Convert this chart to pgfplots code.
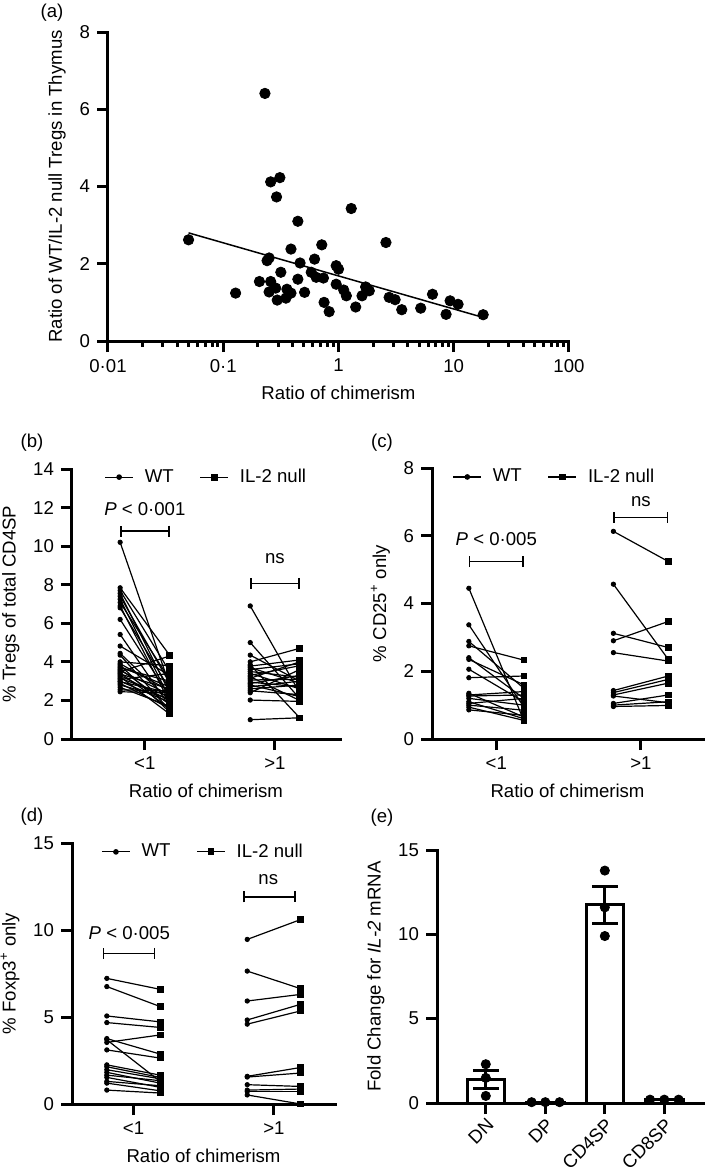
\documentclass[border=0pt]{standalone}
\usepackage{fontspec}
\setmainfont{Liberation Sans}
\usepackage{pgfplots}
\pgfplotsset{compat=1.18}
\usepackage{pgfplotstable}
\usetikzlibrary{arrows.meta}
\newcommand{\fs}{\fontsize{9.3}{11}\selectfont}

\pgfplotsset{
  myaxis/.style={
    scale only axis,
    anchor=south west,
    axis lines=left,
    axis line style={-, line width=1.5pt, line cap=rect},
    tick align=outside,
    major tick length=5.5pt,
    tick style={black, line width=1.5pt},
    tick label style={font=\fs},
    label style={font=\fs},
    /pgf/number format/assume math mode=true,
    clip=false,
  },
  pairaxis/.style={
    myaxis,
    xtick={0,1}, xticklabels={<1,>1},
    xlabel={Ratio of chimerism},
    legend columns=2,
    legend style={draw=none, fill=none, inner sep=0pt, at={#1}, anchor=west, font=\fs,
      /tikz/every odd column/.append style={column sep=3.5pt},
      /tikz/every even column/.append style={column sep=11pt}},
    legend image code/.code={\draw[mark repeat=2,mark phase=2,##1] plot coordinates {(0pt,0pt) (7pt,0pt) (14pt,0pt)};},
  },
}
\newcommand{\pairlegend}{%
  \addlegendimage{black, line width=0.6pt, mark=*, mark size=1.1pt}
  \addlegendentry{WT}
  \addlegendimage{black, line width=0.6pt, mark=square*, mark size=1.4pt}
  \addlegendentry{IL-2 null}
}
\newcommand{\pairplots}[1]{%
  \addplot[forget plot, black, line width=0.6pt, no marks, quiver={u=0.38, v=\thisrow{il}-\thisrow{wt}}] table[x expr=\thisrow{g}-0.19, y=wt] {#1};
  \addplot[forget plot, black, only marks, mark=*, mark size=1.1pt] table[x expr=\thisrow{g}-0.19, y=wt] {#1};
  \addplot[forget plot, black, only marks, mark=square*, mark size=1.4pt] table[x expr=\thisrow{g}+0.19, y=il] {#1};
}
\newcommand{\bracket}[3]{\draw[black, line width=0.75pt, {Bar[width=5.5pt]}-{Bar[width=5.5pt]}] (axis cs:#1,#3) -- (axis cs:#2,#3);}

% (a) scatter
\pgfplotstableread{
x y
0.05 2.62
0.23 6.41
0.128 1.24
0.258 4.12
0.31 4.23
0.29 3.73
0.444 3.10
1.29 3.43
2.58 2.55
0.387 2.38
0.716 2.49
0.24 2.08
0.25 2.15
0.464 2.02
0.62 2.12
0.955 1.95
1.0 1.86
0.206 1.54
0.258 1.54
0.316 1.78
0.444 1.60
0.58 1.78
0.64 1.65
0.74 1.63
0.955 1.47
0.25 1.27
0.285 1.37
0.357 1.34
0.387 1.24
0.508 1.26
0.294 1.06
0.35 1.11
0.75 1.00
0.83 0.76
1.11 1.32
1.17 1.17
1.41 0.88
1.60 1.17
1.72 1.40
1.85 1.30
2.75 1.13
3.10 1.07
3.54 0.81
5.17 0.85
6.54 1.21
8.58 0.69
9.3 1.04
10.9 0.95
18.0 0.68
}\scatterA

% (b) % Tregs of total CD4SP
\pgfplotstableread{
g wt il
0 10.2 2.8
0 7.84 4.35
0 7.70 3.5
0 7.55 2.4
0 7.40 2.9
0 7.25 2.1
0 7.08 3.1
0 6.90 1.9
0 6.80 2.6
0 6.20 2.2
0 5.42 1.7
0 4.82 3.3
0 4.44 2.0
0 4.35 1.5
0 4.00 3.8
0 3.90 2.5
0 3.83 1.4
0 3.75 2.7
0 3.68 3.0
0 3.61 1.8
0 3.55 2.3
0 3.49 4.3
0 3.42 1.6
0 3.37 2.6
0 3.30 2.0
0 3.23 1.3
0 3.15 2.2
0 3.09 3.4
0 3.00 1.9
0 2.97 2.4
0 2.88 1.6
0 2.80 2.1
0 2.68 1.7
0 2.55 2.5
0 2.45 2.4
1 6.90 2.4
1 5.00 2.1
1 4.35 3.0
1 4.00 4.7
1 3.85 1.1
1 3.78 4.1
1 3.70 2.9
1 3.60 3.9
1 3.50 3.2
1 3.40 2.6
1 3.30 3.8
1 3.23 2.0
1 3.15 4.0
1 3.06 3.1
1 2.95 2.7
1 2.88 3.3
1 2.80 2.2
1 2.71 3.0
1 2.60 2.8
1 2.50 2.3
1 2.40 3.6
1 2.02 1.95
1 1.00 1.1
}\tregs

% (c) % CD25+ only
\pgfplotstableread{
g wt il
0 4.45 0.55
0 3.37 0.95
0 2.88 1.50
0 2.75 2.33
0 2.40 1.20
0 2.35 1.60
0 2.06 1.10
0 1.81 1.86
0 1.35 0.65
0 1.30 1.40
0 1.27 1.30
0 1.20 1.00
0 1.10 0.60
0 1.05 1.20
0 1.00 0.85
0 0.94 0.55
0 0.86 0.70
1 6.13 5.24
1 4.57 2.35
1 3.12 2.70
1 2.90 3.47
1 2.55 2.30
1 1.43 1.86
1 1.37 1.76
1 1.30 1.65
1 1.27 1.07
1 1.05 1.30
1 1.00 1.10
1 0.96 0.99
}\cdtwofive

% (d) % Foxp3+ only
\pgfplotstableread{
g wt il
0 7.22 6.59
0 6.75 5.60
0 5.06 4.72
0 4.68 4.40
0 3.76 2.87
0 3.69 1.30
0 3.54 3.97
0 3.11 2.64
0 2.25 1.66
0 2.14 1.53
0 1.97 1.45
0 1.82 1.20
0 1.66 1.34
0 1.53 0.96
0 1.30 1.05
0 1.20 0.76
0 0.80 0.63
1 9.46 10.6
1 7.64 6.63
1 5.92 6.30
1 4.83 5.73
1 4.59 5.35
1 1.59 2.10
1 1.55 1.78
1 1.11 1.01
1 0.80 0.86
1 0.71 0.71
1 0.52 0.00
}\foxp

% (e) IL-2 mRNA
\pgfplotstableread{
x mean
0 1.40
1 0.05
2 11.76
3 0.20
}\ebars
\pgfplotstableread{
x mean sem
0 1.40 0.55
2 11.76 1.10
}\eerr
\pgfplotstableread{
x y
0 2.30
0 1.49
0 0.42
0.77 0.05
1 0.05
1.24 0.05
2 13.78
2 11.60
2 9.90
2.76 0.20
3 0.20
3.24 0.20
}\epts

\begin{document}
\begin{tikzpicture}
\useasboundingbox (0pt,0pt) rectangle (354.5pt,-586.5pt);

% ---------- (a)
\node[font=\fs] at (26pt,-6.5pt) {(a)};
\begin{axis}[myaxis, at={(54pt,-170.5pt)}, width=230.5pt, height=154.5pt,
  xmode=log, xmin=0.01, xmax=100, ymin=0, ymax=8,
  xtick={0.01,0.1,1,10,100}, xticklabels={0·01,0·1,1,10,100},
  minor xtick={}, ytick={0,2,4,6,8},
  xlabel={Ratio of chimerism},
  ylabel={Ratio of WT/IL-2 null Tregs in Thymus}]
\addplot[black, only marks, mark=*, mark size=2.6pt] table[x=x,y=y] {\scatterA};
\addplot[black, line width=0.75pt, no marks] coordinates {(0.05,2.80) (18,0.61)};
\end{axis}

% ---------- (b)
\node[font=\fs] at (16pt,-221.5pt) {(b)};
\begin{axis}[pairaxis={(0.12,0.97)}, at={(36pt,-369.5pt)}, width=134pt, height=135pt,
  xmin=-0.56, xmax=1.5, ymin=0, ymax=14, ytick={0,2,...,14},
  ylabel={\% Tregs of total CD4SP}]
\pairlegend
\pairplots{\tregs}
\bracket{-0.19}{0.19}{10.78}
\node[font=\fs] at (axis cs:0,11.9) {\textit{P} < 0·001};
\bracket{0.81}{1.19}{8.07}
\node[font=\fs] at (axis cs:1,9.36) {ns};
\end{axis}

% ---------- (c)
\node[font=\fs] at (191pt,-221.5pt) {(c)};
\begin{axis}[pairaxis={(0.075,0.967)}, at={(216pt,-369.5pt)}, width=135.5pt, height=135.5pt,
  xmin=-0.445, xmax=1.43, ymin=0, ymax=8, ytick={0,2,...,8},
  ylabel={\% CD25\textsuperscript{+} only}]
\pairlegend
\pairplots{\cdtwofive}
\bracket{-0.19}{0.19}{5.24}
\node[font=\fs] at (axis cs:0,5.9) {\textit{P} < 0·005};
\bracket{0.81}{1.19}{6.54}
\node[font=\fs] at (axis cs:1,7.01) {ns};
\end{axis}

% ---------- (d)
\node[font=\fs] at (16pt,-408.5pt) {(d)};
\begin{axis}[pairaxis={(0.11,0.966)}, at={(36pt,-552pt)}, width=131.5pt, height=130.5pt,
  xmin=-0.438, xmax=1.435, ymin=0, ymax=15, ytick={0,5,10,15},
  ylabel={\% Foxp3\textsuperscript{+} only}]
\pairlegend
\pairplots{\foxp}
\bracket{-0.22}{0.155}{8.66}
\node[font=\fs] at (axis cs:-0.03,9.84) {\textit{P} < 0·005};
\bracket{0.78}{1.155}{11.9}
\node[font=\fs] at (axis cs:0.96,12.9) {ns};
\end{axis}

% ---------- (e)
\node[font=\fs] at (191pt,-409pt) {(e)};
\begin{axis}[myaxis, at={(218.5pt,-551.5pt)}, width=133pt, height=126.5pt,
  xmin=-0.82, xmax=3.65, ymin=0, ymax=15, ytick={0,5,10,15},
  xtick={0,1,2,3}, xticklabels={DN,DP,CD4SP,CD8SP},
  xticklabel style={rotate=45, anchor=north east, inner sep=1pt},
  ylabel={Fold Change for \textit{IL-2} mRNA}]
\addplot[ybar, bar width=18.8pt, fill=white, draw=black, line width=1.5pt] table[x=x,y=mean] {\ebars};
\addplot[draw=none, mark=none, error bars/.cd, y dir=both, y explicit,
  error bar style={line width=1.5pt, black},
  error mark options={rotate=90, mark size=6.5pt, line width=1.5pt, black}]
  table[x=x, y=mean, y error=sem] {\eerr};
\addplot[black, only marks, mark=*, mark size=2.3pt] table[x=x,y=y] {\epts};
\end{axis}
\end{tikzpicture}
\end{document}
